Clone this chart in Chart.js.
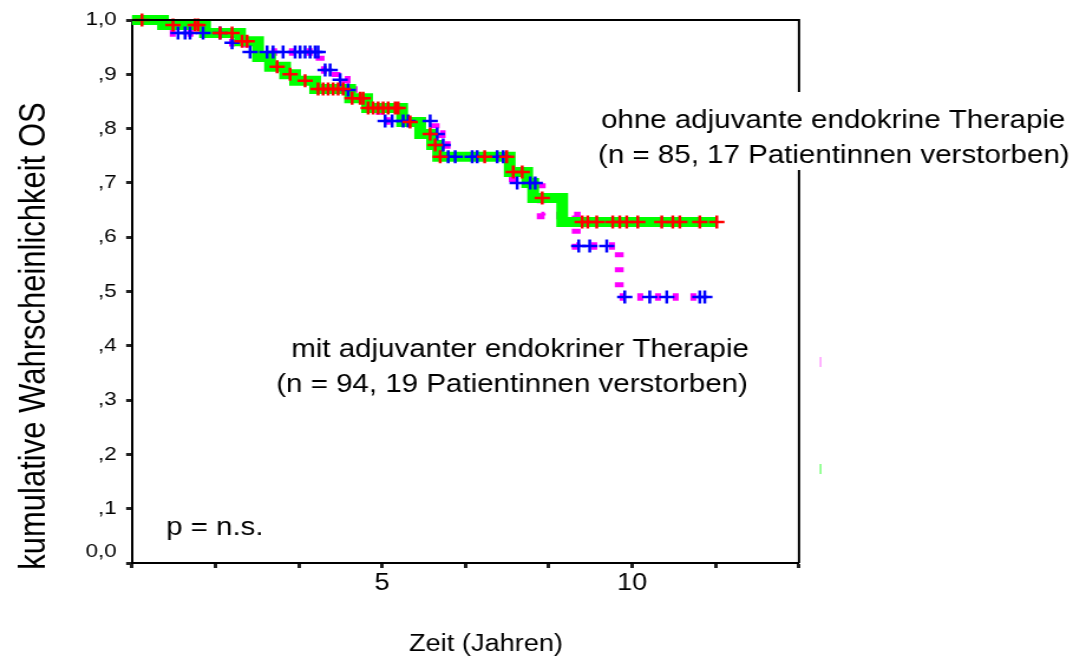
<!DOCTYPE html>
<html>
<head>
<meta charset="utf-8">
<script src="https://cdn.jsdelivr.net/npm/chart.js@4.4.1/dist/chart.umd.min.js"></script>
<style>
  html, body { margin: 0; padding: 0; background: #fff; }
</style>
</head>
<body>
<canvas id="km" width="909" height="658" style="display:block;width:1073px;height:658px"></canvas>
<script>
// ohne adjuvante endokrine Therapie (gruen, rote Zensur-Kreuze)
const ohneZeit = [0, 0.62, 1.46, 2.16, 2.52, 2.76, 3.06, 3.26, 3.66, 4.36, 4.70, 5.40, 5.76, 6.00, 6.12, 7.55, 7.90, 8.02, 8.60, 11.70];
const ohneOS   = [1.0, 0.991, 0.976, 0.961, 0.932, 0.914, 0.900, 0.888, 0.873, 0.856, 0.838, 0.812, 0.790, 0.770, 0.748, 0.720, 0.700, 0.672, 0.628, 0.628];
const ohneZensiert = [0.2, 0.82, 1.26, 1.32, 1.76, 2.0, 2.2, 2.3, 2.9, 3.16, 3.46, 3.72, 3.82, 3.92, 4.02, 4.12, 4.22,
  4.40, 4.56, 4.62, 4.72, 4.82, 4.92, 5.02, 5.12, 5.26, 5.32, 5.56, 5.96, 6.06, 6.16, 7.05, 7.49, 7.62, 7.8, 8.2,
  9.0, 9.11, 9.29, 9.61, 9.75, 9.89, 10.11, 10.59, 10.81, 10.95, 11.35, 11.69];

// mit adjuvanter endokriner Therapie (magenta gestrichelt, blaue Zensur-Kreuze)
const mitZeit = [0, 0.66, 1.86, 2.30, 3.76, 4.08, 4.28, 4.42, 4.70, 4.96, 6.06, 6.18, 6.28, 7.55, 7.62, 8.18, 8.88, 9.74, 11.45];
const mitOS   = [1.0, 0.976, 0.958, 0.941, 0.908, 0.890, 0.871, 0.856, 0.838, 0.814, 0.790, 0.770, 0.748, 0.720, 0.700, 0.640, 0.584, 0.490, 0.490];
const mitZensiert = [0.92, 1.06, 1.16, 1.42, 1.76, 2.0, 2.36, 2.70, 2.82, 3.02, 3.26, 3.36, 3.46, 3.56, 3.66, 3.72,
  3.86, 3.96, 4.16, 4.32, 5.06, 5.2, 5.42, 5.52, 5.96, 6.1, 6.22, 6.32, 6.46, 6.8, 6.9, 7.3, 7.42,
  7.70, 7.96, 8.06, 8.93, 9.15, 9.49, 9.85, 10.35, 10.69, 11.35, 11.45];

const xTicks = [0, 5 / 3, 10 / 3, 5, 20 / 3, 25 / 3, 10, 35 / 3, 40 / 3];
const xTickLabels = ['', '', '', '5', '', '', '10', '', ''];
const yTickLabels = [['0,0', ''], ',1', ',2', ',3', ',4', ',5', ',6', ',7', ',8', ',9', '1,0'];

// Vorlage ist horizontal gestreckt -> Canvas schmaler rendern und per CSS strecken
const SX = 909 / 1073;
const px = x => x * SX;
const FONT = '"Liberation Sans", Arial, sans-serif';

function kurve(zeit, os) {
    return zeit.map((t, i) => ({ x: t, y: os[i] }));
}

function stufeBei(zeit, os, t) {
    let s = os[0];
    for (let i = 0; i < zeit.length; i++) {
        if (zeit[i] <= t) s = os[i];
    }
    return s;
}

function kreuze(zensiert, zeit, os) {
    return zensiert.map(t => ({ x: t, y: stufeBei(zeit, os, t) }));
}

const beschriftung = {
    id: 'beschriftung',
    afterDraw(chart) {
        const ctx = chart.ctx;
        const a = chart.chartArea;
        ctx.save();

        // Rahmen oben und rechts
        ctx.strokeStyle = '#000';
        ctx.lineWidth = 2;
        ctx.beginPath();
        ctx.moveTo(a.left, a.top);
        ctx.lineTo(a.right, a.top);
        ctx.lineTo(a.right, a.bottom);
        ctx.stroke();

        // weisser Hintergrund hinter der oberen Beschriftung
        ctx.fillStyle = '#fff';
        ctx.fillRect(px(596), 92, px(1073) - px(596), 78);

        ctx.fillStyle = '#000';
        ctx.font = '25px ' + FONT;
        ctx.textAlign = 'left';
        ctx.textBaseline = 'alphabetic';
        ctx.fillText('ohne adjuvante endokrine Therapie', px(601), 128);
        ctx.fillText('(n = 85, 17 Patientinnen verstorben)', px(598), 163);

        ctx.textAlign = 'center';
        ctx.fillText('mit adjuvanter endokriner Therapie', px(520), 357);
        ctx.fillText('(n = 94, 19 Patientinnen verstorben)', px(512), 392);

        ctx.textAlign = 'left';
        ctx.fillText('p = n.s.', px(166), 535);

        // Achsentitel
        ctx.font = '23px ' + FONT;
        ctx.textAlign = 'center';
        ctx.fillText('Zeit (Jahren)', px(486), 651);

        ctx.save();
        ctx.translate(px(45), 336);
        ctx.rotate(-Math.PI / 2);
        ctx.font = '31px ' + FONT;
        ctx.fillText('kumulative Wahrscheinlichkeit OS', 0, 0);
        ctx.restore();

        // Reste der abgeschnittenen Legende
        ctx.lineWidth = 1;
        ctx.strokeStyle = '#ff66ff';
        ctx.beginPath();
        ctx.moveTo(px(820.5), 357);
        ctx.lineTo(px(820.5), 367);
        ctx.stroke();
        ctx.strokeStyle = '#33ff33';
        ctx.beginPath();
        ctx.moveTo(px(820.5), 464);
        ctx.lineTo(px(820.5), 474);
        ctx.stroke();

        ctx.restore();
    }
};

const linie = (daten, farbe, breite, dash) => ({
    data: daten,
    borderColor: farbe,
    borderWidth: breite,
    borderDash: dash || [],
    stepped: 'before',
    pointRadius: 0,
    fill: false,
    clip: false
});

const marker = (daten, farbe) => ({
    data: daten,
    showLine: false,
    pointStyle: 'cross',
    pointRadius: 6.5,
    pointHoverRadius: 6.5,
    pointBorderWidth: 2.5,
    pointBorderColor: farbe,
    borderColor: farbe,
    clip: false
});

new Chart(document.getElementById('km').getContext('2d'), {
    type: 'line',
    data: {
        datasets: [
            marker(kreuze(ohneZensiert, ohneZeit, ohneOS), '#ff0000'),
            marker(kreuze(mitZensiert, mitZeit, mitOS), '#0000ff'),
            linie(kurve(ohneZeit, ohneOS), '#00ff00', 10),
            linie(kurve(mitZeit, mitOS), '#ff00ff', 7.5, [5, 10])
        ]
    },
    options: {
        responsive: false,
        devicePixelRatio: 1,
        animation: false,
        events: [],
        layout: {
            padding: { top: 20, right: 909 - px(799), bottom: 0, left: 0 }
        },
        scales: {
            x: {
                type: 'linear',
                min: 0,
                max: 40 / 3,
                afterBuildTicks: scale => { scale.ticks = xTicks.map(v => ({ value: v })); },
                afterFit: scale => { scale.height = 658 - 563; },
                ticks: {
                    autoSkip: false,
                    maxRotation: 0,
                    padding: 2,
                    color: '#000',
                    font: { family: FONT, size: 23 },
                    callback: (v, i) => xTickLabels[i]
                },
                grid: {
                    display: true,
                    drawOnChartArea: false,
                    tickLength: 5,
                    tickWidth: 3,
                    tickColor: '#222'
                },
                border: { display: true, color: '#000', width: 2 }
            },
            y: {
                min: 0,
                max: 1,
                afterFit: scale => { scale.width = px(132); },
                ticks: {
                    stepSize: 0.1,
                    padding: 8,
                    color: '#000',
                    font: { family: FONT, size: 19 },
                    callback: (v, i) => yTickLabels[i]
                },
                grid: {
                    display: true,
                    drawOnChartArea: false,
                    tickLength: 5,
                    tickWidth: 3,
                    tickColor: '#222'
                },
                border: { display: true, color: '#000', width: 2 }
            }
        },
        plugins: {
            legend: { display: false },
            tooltip: { enabled: false }
        }
    },
    plugins: [beschriftung]
});
</script>
</body>
</html>
